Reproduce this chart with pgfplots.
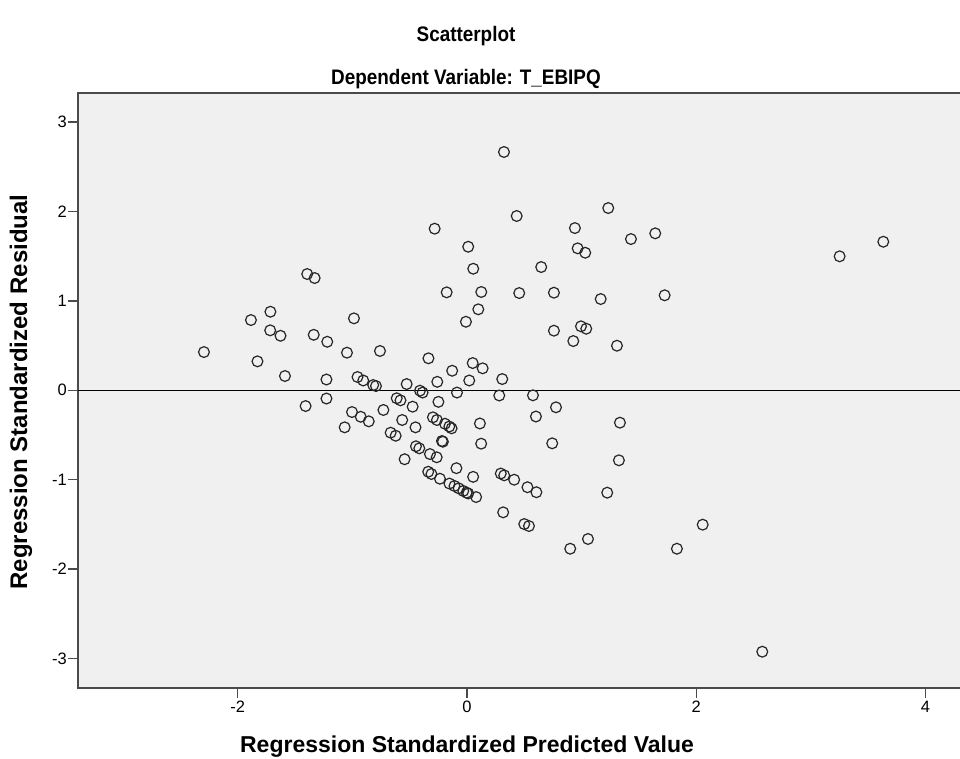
\documentclass[border=0pt]{standalone}
\usepackage{pgfplots}
\pgfplotsset{compat=1.18}
\usepackage{pgfplotstable}
\usepackage{graphicx}
\usepackage{fontspec}
\setmainfont{Liberation Sans}

\definecolor{plotbg}{HTML}{F0F0F0}
\definecolor{framegray}{HTML}{4A4A4A}
\definecolor{markgray}{HTML}{262626}

% Standardized predicted value vs. standardized residual
\pgfplotstableread{
x y
0.323 2.666
0.434 1.950
1.233 2.039
-0.282 1.808
0.942 1.815
1.431 1.692
1.643 1.756
0.011 1.606
0.966 1.588
1.032 1.539
0.055 1.360
0.648 1.379
-0.177 1.096
0.125 1.100
0.456 1.088
0.759 1.092
1.167 1.021
1.725 1.063
0.099 0.906
-0.009 0.767
0.759 0.667
0.995 0.716
1.041 0.689
0.928 0.551
1.309 0.499
-0.759 0.440
-0.336 0.358
0.050 0.305
0.137 0.246
-0.129 0.219
-0.259 0.095
0.020 0.110
0.308 0.126
-0.818 0.059
-0.794 0.048
-0.526 0.070
-0.410 -0.004
-0.387 -0.025
-0.087 -0.025
0.282 -0.058
0.576 -0.056
3.252 1.499
3.633 1.662
-1.394 1.301
-1.329 1.256
-1.715 0.879
-1.885 0.786
-0.986 0.805
-1.717 0.671
-1.627 0.610
-1.337 0.621
-1.219 0.543
-2.295 0.428
-1.047 0.421
-1.828 0.324
-1.588 0.160
-1.226 0.121
-0.955 0.149
-0.905 0.110
-1.226 -0.092
-1.408 -0.176
-1.003 -0.243
-0.927 -0.296
-0.857 -0.347
-1.067 -0.414
-0.729 -0.220
-0.613 -0.089
-0.580 -0.112
-0.474 -0.183
-0.249 -0.129
0.777 -0.190
-0.565 -0.332
-0.449 -0.414
-0.666 -0.474
-0.622 -0.508
-0.297 -0.302
-0.262 -0.332
-0.192 -0.374
-0.154 -0.405
-0.134 -0.425
0.113 -0.371
0.602 -0.293
1.335 -0.362
-0.218 -0.567
-0.210 -0.575
0.124 -0.597
0.744 -0.593
-0.445 -0.626
-0.416 -0.649
-0.323 -0.713
-0.264 -0.749
-0.544 -0.771
1.326 -0.783
-0.092 -0.871
0.054 -0.968
-0.338 -0.911
-0.310 -0.936
-0.236 -0.989
-0.153 -1.043
-0.109 -1.070
-0.072 -1.096
-0.032 -1.126
-0.003 -1.145
0.011 -1.154
0.080 -1.194
0.295 -0.931
0.325 -0.951
0.412 -1.000
0.528 -1.084
0.606 -1.140
1.224 -1.145
0.316 -1.365
0.500 -1.496
0.541 -1.518
1.056 -1.663
0.901 -1.772
2.057 -1.503
1.832 -1.772
2.577 -2.924
}\residuals

\begin{document}
\begin{tikzpicture}[x=1pt,y=1pt]
\begin{axis}[
  at={(78pt,70pt)}, anchor=south west,
  scale only axis, width=898pt, height=595pt,
  xmin=-3.394, xmax=4.442, ymin=-3.330, ymax=3.326,
  axis background/.style={fill=plotbg},
  axis line style={framegray, line width=1.4pt},
  xtick={-2,0,2,4}, ytick={-3,-2,-1,0,1,2,3},
  tick align=outside, major tick length=10pt,
  xtick pos=bottom, ytick pos=left,
  major tick style={framegray, line width=1.3pt},
  ticklabel style={font=\fontsize{16.5}{16.5}\selectfont},
  yticklabel style={inner sep=1pt},
  xticklabel style={inner sep=3pt},
  /pgf/number format/assume math mode=true,
]
\addplot[black, line width=1.1pt, forget plot] coordinates {(-3.394,0) (4.442,0)};
\addplot[only marks, mark=o, mark size=5.4pt,
  mark options={draw=markgray, line width=1.2pt}] table[x=x, y=y] {\residuals};
\end{axis}
\node[font=\fontsize{21}{21}\selectfont\bfseries] at (466,722) {\scalebox{0.9}[1]{Scatterplot}};
\node[font=\fontsize{21}{21}\selectfont\bfseries] at (466,679) {\scalebox{0.9}[1]{Dependent Variable: T\_EBIPQ}};
\node[font=\fontsize{23}{23}\selectfont\bfseries] at (467,11) {Regression Standardized Predicted Value};
\node[font=\fontsize{24}{24}\selectfont\bfseries, rotate=90] at (21,366) {Regression Standardized Residual};
\pgfresetboundingbox
\path[use as bounding box] (0,0) rectangle (960,758);
\end{tikzpicture}
\end{document}
